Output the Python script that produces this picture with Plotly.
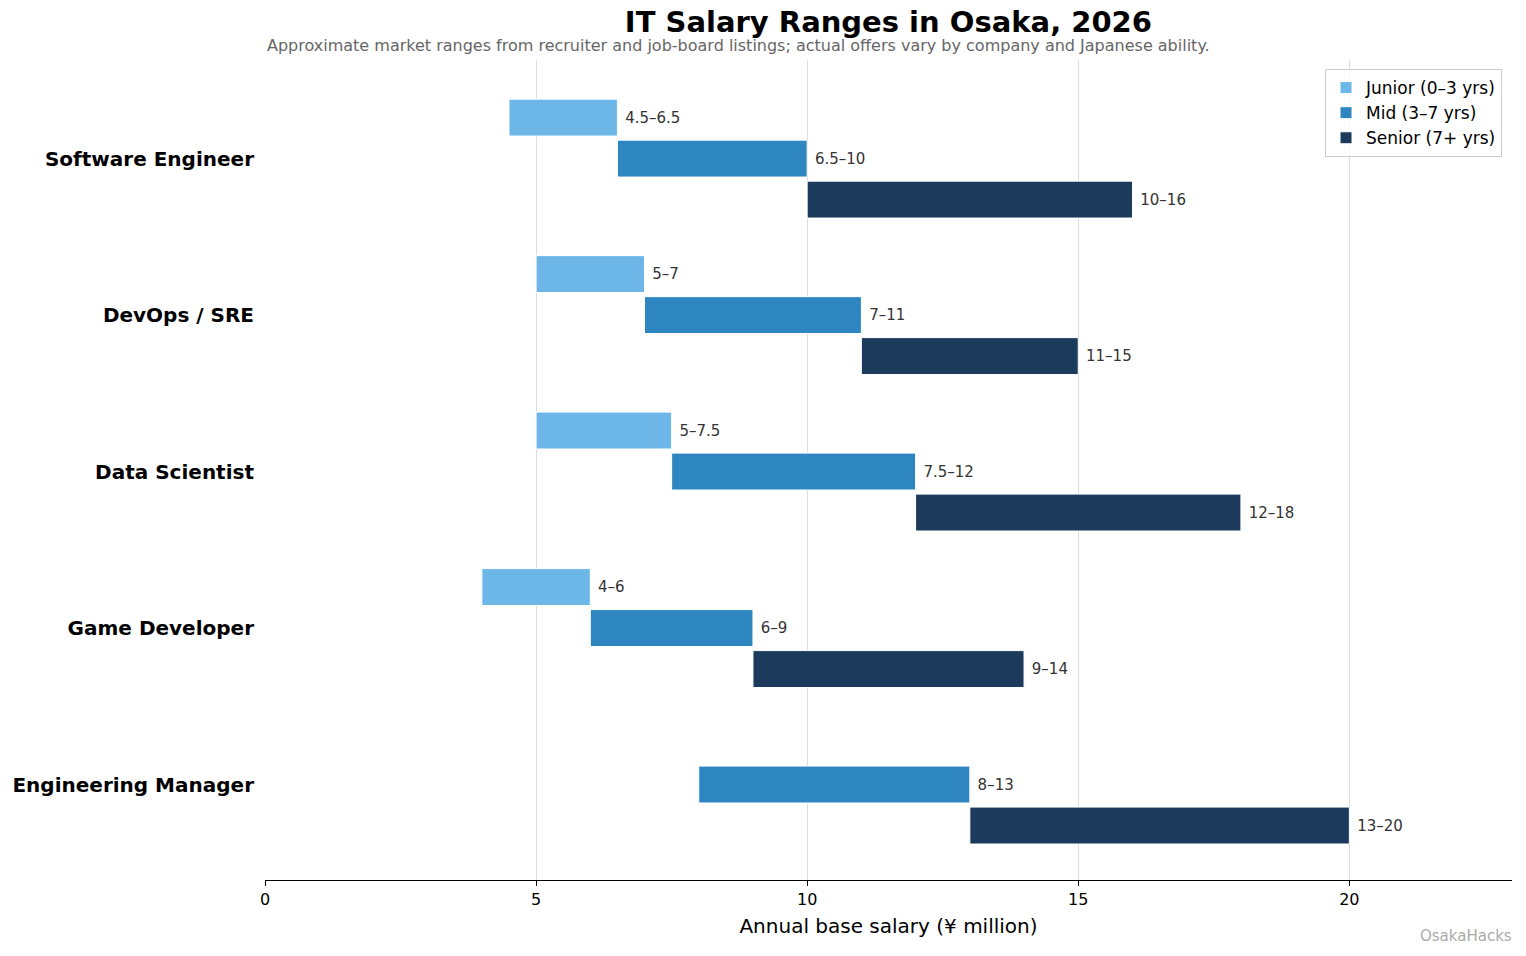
import plotly.graph_objects as go

roles = ["Software Engineer", "DevOps / SRE", "Data Scientist", "Game Developer", "Engineering Manager"]
levels = ["Junior (0–3 yrs)", "Mid (3–7 yrs)", "Senior (7+ yrs)"]
junior_low = [4.5, 5, 5, 4, None]
junior_high = [6.5, 7, 7.5, 6, None]
mid_low = [6.5, 7, 7.5, 6, 8]
mid_high = [10, 11, 12, 9, 13]
senior_low = [10, 11, 12, 9, 13]
senior_high = [16, 15, 18, 14, 20]
colors = ["#6CB7E8", "#2E86C1", "#1B3A5C"]
x_ticks = [0, 5, 10, 15, 20]


def fmt(v):
    return f"{v:g}"


series = [(junior_low, junior_high), (mid_low, mid_high), (senior_low, senior_high)]

FONT = "DejaVu Sans"
fig = go.Figure()
for name, (lows, highs), col in zip(levels, series, colors):
    ys, bases, widths, texts = [], [], [], []
    for r, lo, hi in zip(roles, lows, highs):
        if lo is None:
            continue
        ys.append(r)
        bases.append(lo)
        widths.append(hi - lo)
        texts.append(f" {fmt(lo)}–{fmt(hi)}")
    fig.add_trace(go.Bar(
        name=name, orientation="h", y=ys, x=widths, base=bases,
        marker=dict(color=col, line=dict(color="white", width=1)),
        text=texts, textposition="outside", cliponaxis=False,
        textfont=dict(family=FONT, size=15, color="#333333"),
        hoverinfo="skip",
    ))

fig.update_layout(
    barmode="group", bargap=0.214, bargroupgap=0.1,
    width=1526, height=956,
    margin=dict(l=265, r=14, t=60, b=76),
    paper_bgcolor="white", plot_bgcolor="white",
    font=dict(family=FONT, color="black"),
    title=dict(text="<b>IT Salary Ranges in Osaka, 2026</b>", x=0.5822, xanchor="center",
               y=1 - 22 / 956, yanchor="middle", font=dict(size=29, family=FONT, color="black")),
    legend=dict(x=0.992, xanchor="right", y=0.989, yanchor="top",
                bordercolor="#cccccc", borderwidth=1, bgcolor="rgba(255,255,255,0.8)",
                font=dict(size=17, family=FONT), traceorder="normal", tracegroupgap=0),
    xaxis=dict(range=[0, 23], tickvals=x_ticks, showgrid=True, gridcolor="#dddddd",
               zeroline=False, showline=True, linecolor="black", linewidth=1,
               ticks="outside", ticklen=5, tickcolor="black",
               tickfont=dict(size=16, family=FONT, color="black"),
               title=dict(text="Annual base salary (¥ million)", font=dict(size=20, family=FONT), standoff=10)),
    yaxis=dict(categoryorder="array", categoryarray=roles, range=[4.61, -0.63],
               showgrid=False, zeroline=False, showline=False, ticks="",
               tickfont=dict(size=20, family=FONT, color="black"),
               tickprefix="<b>", ticksuffix="</b>", ticklabelstandoff=10),
    annotations=[
        dict(text="Approximate market ranges from recruiter and job-board listings; actual offers vary by company and Japanese ability.",
             xref="paper", yref="paper", x=0, y=1 + 14 / 820, xanchor="left", yanchor="middle",
             showarrow=False, font=dict(size=16, color="#666666", family=FONT)),
        dict(text="OsakaHacks", xref="paper", yref="paper", x=1 + 2 / 1247, y=-56 / 820,
             xanchor="right", yanchor="middle", showarrow=False,
             font=dict(size=15, color="#aaaaaa", family=FONT)),
    ],
)

fig.write_html("out.html")
